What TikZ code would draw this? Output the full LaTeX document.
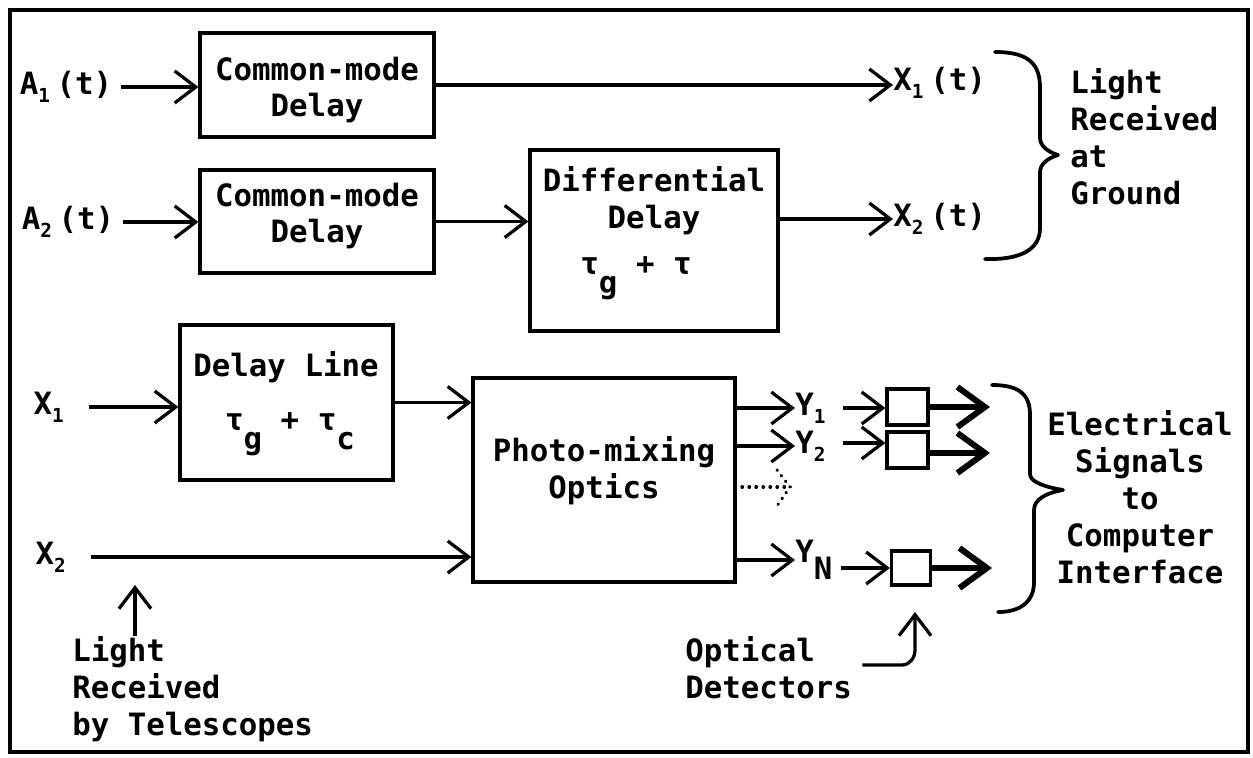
\documentclass[tikz,border=0pt]{standalone}
\usepackage{fontspec}
\setmainfont{DejaVu Sans Mono}[BoldFont={DejaVu Sans Mono Bold}]
\usetikzlibrary{arrows.meta}
\newcommand\lowsub[1]{\makebox[10.5pt][l]{\raisebox{-0.5ex}{\fontsize{11}{11}\selectfont #1}}}
\newcommand\lowfull[1]{\raisebox{-1.1ex}{#1}}
\begin{document}
\begin{tikzpicture}[x=0.02cm,y=-0.02cm,
  every node/.style={font=\fontsize{17.5}{21}\selectfont\bfseries},
  lbl/.style={inner sep=0pt},
  blk/.style={draw,line width=0.065cm,inner sep=0pt},
  det/.style={draw,line width=0.065cm,inner sep=0pt},
  arr/.style={line width=0.065cm,-{Straight Barb[length=0.42cm,width=0.64cm]}},
  thickarr/.style={line width=0.12cm,-{Straight Barb[length=0.55cm,width=0.8cm]}},
  brc/.style={line width=0.075cm,line cap=round,line join=round},
  dots/.style={line width=0.065cm,line cap=round,dash pattern=on 0.01cm off 0.13cm}]
\useasboundingbox (0,0) rectangle (1253,757);
\draw[line width=0.07cm] (10,10) rectangle (1248,752);

% blocks
\node[blk,minimum width=4.68cm,minimum height=2.08cm] (cm1) at (317,85) {};
\node[lbl,align=center] (cm1t) at (317,90) {Common-mode\\Delay};
\node[blk,minimum width=4.68cm,minimum height=2.06cm] (cm2) at (317,221.5) {};
\node[lbl,align=center] (cm2t) at (317,216) {Common-mode\\Delay};
\node[blk,minimum width=4.96cm,minimum height=3.62cm] (dd) at (654,240.5) {};
\node[lbl,align=center] (ddt) at (654,201) {Differential\\Delay};
\node[lbl] (ddtau) at (636,278) {τ\lowfull{g} + τ};
\node[blk,minimum width=4.26cm,minimum height=3.1cm] (dl) at (286.5,402.5) {};
\node[lbl] (dlt) at (286,367) {Delay Line};
\node[lbl] (dltau) at (290,434) {τ\lowfull{g} + τ\lowfull{c}};
\node[blk,minimum width=5.24cm,minimum height=4.08cm] (pm) at (604,480) {};
\node[lbl,align=center] (pmt) at (604,471) {Photo-mixing\\Optics};

% detectors
\node[det,minimum width=0.82cm,minimum height=0.72cm] (d1) at (907.5,407) {};
\node[det,minimum width=0.82cm,minimum height=0.72cm] (d2) at (907.5,450) {};
\node[det,minimum width=0.78cm,minimum height=0.68cm] (d3) at (911,568) {};

% labels
\node[lbl] (a1) at (66,87) {A\lowsub{1}(t)};
\node[lbl] (a2) at (68,222) {A\lowsub{2}(t)};
\node[lbl,anchor=west] (x1t) at (893,83) {X\lowsub{1}(t)};
\node[lbl,anchor=west] (x2t) at (893,219) {X\lowsub{2}(t)};
\node[lbl] (x1) at (52,407) {X\lowsub{1}};
\node[lbl] (x2) at (54,557) {X\lowsub{2}};
\node[lbl,anchor=west] (y1) at (795,408) {Y\lowsub{1}};
\node[lbl,anchor=west] (y2) at (795,446) {Y\lowsub{2}};
\node[lbl,anchor=west] (yn) at (795,560) {Y\raisebox{-1.0ex}{N}};
\node[lbl,anchor=west,align=left] (ground) at (1070,137) {Light\\Received\\at\\Ground};
\node[lbl,align=center] (elec) at (1140,497) {Electrical\\Signals\\to\\Computer\\Interface};
\node[lbl,anchor=north west,align=left] (tel) at (72,636) {Light\\Received\\by Telescopes};
\node[lbl,anchor=west,align=left] (od) at (685,668) {Optical\\Detectors};

% connectors top
\draw[arr] (a1.east) ++(8,0) coordinate (a1s) -- (a1s -| cm1.west);
\draw[arr] (a2.east) ++(8,0) coordinate (a2s) -- (a2s -| cm2.west);
\draw[arr] (cm1.east) -- (cm1.east -| x1t.west);
\draw[arr] (cm2.east) -- (cm2.east -| dd.west);
\draw[arr] (x2t.west -| dd.east) -- (x2t.west);

% connectors bottom
\draw[arr] (x1.east) ++(18,0) coordinate (x1s) -- (x1s -| dl.west);
\draw[arr] (dl.east) -- (dl.east -| pm.west);
\draw[arr] (x2.east) ++(18,0) coordinate (x2s) -- (x2s -| pm.west);
\draw[arr] (pm.east |- y1.west) -- (y1.west);
\draw[arr] (pm.east |- y2.west) -- (y2.west);
\draw[arr] (pm.east |- yn.west) -- (yn.west);
\coordinate (dotend) at (790,487);
\coordinate (dotstart) at (742,487);
\draw[dots] (dotstart) -- (dotend);
\draw[dots] (777,470) -- (dotend) -- (777,506);

\draw[arr] (y1.east) ++(10,0) coordinate (y1s) -- (y1s -| d1.west);
\draw[arr] (y2.east) ++(10,-3) coordinate (y2s) -- (y2s -| d2.west);
\draw[arr] (yn.east) ++(8,8) coordinate (yns) -- (yns -| d3.west);

\coordinate (o1) at (990,407);
\coordinate (o2) at (990,453);
\coordinate (o3) at (992,568);
\draw[thickarr] (d1.east) -- (o1);
\draw[thickarr] (d2.east |- o2) -- (o2);
\draw[thickarr] (d3.east) -- (o3);

% small arrows
\coordinate (teltip) at (135,585);
\draw[arr] (teltip |- tel.north) -- (teltip);
\coordinate (odtip) at (915,612);
\draw[arr] (od.east) ++(10,-3) -- (902,665) to[out=0,in=-90] (915,650) -- (odtip);

% braces
\draw[brc] (995,52) .. controls (1030,52) and (1040,65) .. (1040,88) -- (1040,138)
  .. controls (1040,146) and (1048,152) .. (1058,155)
  .. controls (1048,158) and (1040,164) .. (1040,172) -- (1040,228)
  .. controls (1040,250) and (1020,260) .. (985,259);
\draw[brc] (992,385) .. controls (1020,385) and (1030,395) .. (1030,415) -- (1030,474)
  .. controls (1030,482) and (1045,487) .. (1063,490)
  .. controls (1045,493) and (1034,500) .. (1034,510) -- (1034,582)
  .. controls (1034,602) and (1020,612) .. (998,612);
\end{tikzpicture}
\end{document}
